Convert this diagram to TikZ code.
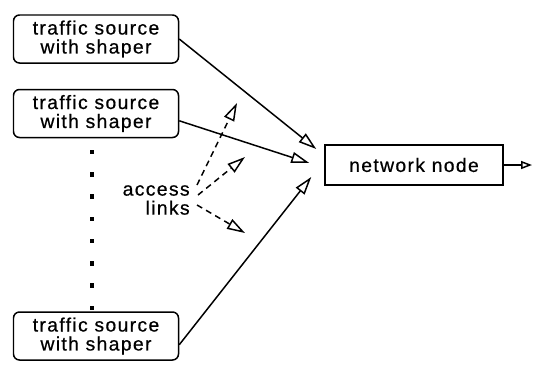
\documentclass[tikz,border=0pt]{standalone}
\usepackage{fontspec}
\setmainfont{Liberation Sans}[LetterSpace=7, FakeBold=0.6]
\usetikzlibrary{arrows.meta}

\tikzstyle{srcbox} = [draw, rounded corners=0.12cm, line width=0.85pt, align=center,
	minimum width=3.3cm, minimum height=0.96cm, inner sep=0pt]
\tikzstyle{netbox} = [draw, line width=0.85pt, minimum width=3.56cm, minimum height=0.8cm]
\tikzstyle{dot} = [fill, rectangle, minimum size=2.6pt, inner sep=0pt]
\tikzstyle{feed} = [line width=0.85pt, -{Triangle[open, length=0.36cm, width=0.22cm]}]
\tikzstyle{link} = [feed, dash pattern=on 0.12cm off 0.09cm]

\begin{document}
\begin{tikzpicture}[font=\fontsize{11}{10.8}\selectfont]
\useasboundingbox (0,0) rectangle (10.66,7.32);

% sources
\node [srcbox] (src1) at (1.92,6.54) {traffic source\\with shaper};
\node [srcbox] (src2) at (1.92,5.05) {traffic source\\with shaper};
\node [srcbox] (src3) at (1.92,0.60) {traffic source\\with shaper};
\foreach \i in {0,...,7}
	\node [dot] (d\i) at (1.84,4.28-0.4457*\i) {};

% network node and its output
\node [netbox] (net) at (8.28,4.02) {network node};
\coordinate (out) at (10.64,4.02);
\draw [line width=0.85pt, -{Triangle[open, length=0.22cm, width=0.16cm]}] (net.east) -- (out);

% inputs
\coordinate (in1) at ([xshift=-0.16cm,yshift=0.32cm]net.west);
\coordinate (in2) at ([xshift=-0.30cm,yshift=0.04cm]net.west);
\coordinate (in3) at ([xshift=-0.26cm,yshift=-0.24cm]net.west);
\draw [feed] (src1.east) -- (in1);
\draw [feed] (src2.-5) -- (in2);
\draw [feed] (src3.-6) -- (in3);

% access links
\node [align=right, anchor=east, inner sep=0pt] (acc) at (3.80,3.32) {access\\links};
\coordinate (lk1) at (4.74,5.26);
\coordinate (lk2) at (4.90,4.18);
\coordinate (lk3) at (4.90,2.66);
\draw [link] ([xshift=0.14cm,yshift=0.30cm]acc.east) -- (lk1);
\draw [link] ([xshift=0.16cm,yshift=0.10cm]acc.east) -- (lk2);
\draw [link] ([xshift=0.14cm,yshift=-0.10cm]acc.east) -- (lk3);
\end{tikzpicture}
\end{document}
